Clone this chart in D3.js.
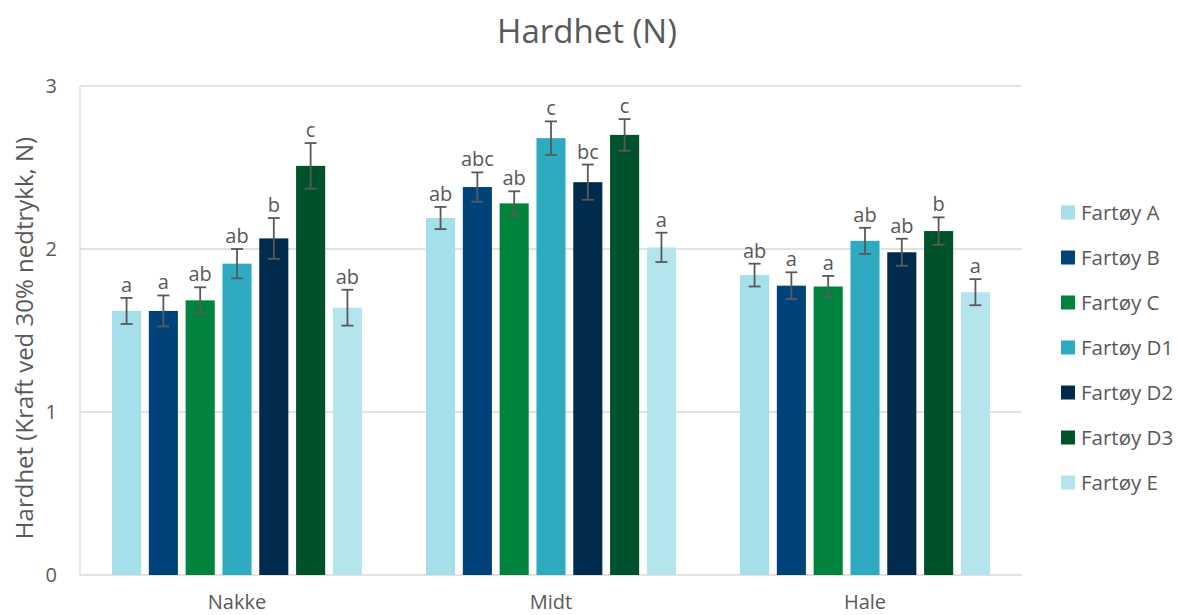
<!DOCTYPE html>
<html><head><meta charset="utf-8">
<script src="https://cdn.jsdelivr.net/npm/d3@7/dist/d3.min.js"></script>
<style>body{margin:0;background:#fff;} text{font-family:"Open Sans",sans-serif;fill:#595959;}</style>
</head><body><svg id="c" width="1177" height="615"></svg>
<script>
const categories = ["Nakke","Midt","Hale"];
const series = ["Fartøy A","Fartøy B","Fartøy C","Fartøy D1","Fartøy D2","Fartøy D3","Fartøy E"];
const colors = ["#a4dfea","#00437a","#00843d","#2eaac1","#002b4c","#00522a","#b4e5ec"];
// values[series][category]
const values = [
  [1.62, 2.19, 1.84],
  [1.62, 2.38, 1.775],
  [1.685, 2.28, 1.77],
  [1.91, 2.68, 2.05],
  [2.065, 2.41, 1.98],
  [2.51, 2.70, 2.11],
  [1.64, 2.01, 1.735]
];
const errors = [
  [0.08, 0.068, 0.07],
  [0.095, 0.09, 0.082],
  [0.08, 0.074, 0.065],
  [0.09, 0.103, 0.08],
  [0.125, 0.108, 0.083],
  [0.14, 0.097, 0.084],
  [0.11, 0.09, 0.08]
];
const letters = [
  ["a","ab","ab"],
  ["a","abc","a"],
  ["ab","ab","a"],
  ["ab","c","ab"],
  ["b","bc","ab"],
  ["c","c","b"],
  ["ab","a","a"]
];
const yTicks = [0,1,2,3];

const svg = d3.select("#c");
const L = 80, R = 1022, T = 86, B = 575;
const x0 = d3.scaleBand().domain(categories).range([L,R]).paddingInner(0.204).paddingOuter(0.102);
const x1 = d3.scaleBand().domain(series).range([0,x0.bandwidth()]).paddingInner(0.21).paddingOuter(0);
const y = d3.scaleLinear().domain([0,3]).range([B,T]);

// gridlines
svg.append("g").selectAll("line").data(yTicks).join("line")
  .attr("x1",L).attr("x2",R).attr("y1",d=>y(d)).attr("y2",d=>y(d))
  .attr("stroke","#d9d9d9").attr("stroke-width",1.3);
svg.append("line").attr("x1",L).attr("x2",L).attr("y1",T).attr("y2",B)
  .attr("stroke","#d9d9d9").attr("stroke-width",1.3);

// y tick labels
svg.append("g").selectAll("text").data(yTicks).join("text")
  .attr("x",57).attr("y",d=>y(d)).attr("dy","0.35em").attr("text-anchor","end")
  .style("font-size","20px").text(d=>d);

// bars
const data = [];
series.forEach((s,i)=>categories.forEach((c,j)=>data.push({s,c,i,v:values[i][j],e:errors[i][j],l:letters[i][j]})));
const bx = d=>x0(d.c)+x1(d.s);
svg.append("g").selectAll("rect").data(data).join("rect")
  .attr("x",bx).attr("width",x1.bandwidth())
  .attr("y",d=>y(d.v)).attr("height",d=>y(0)-y(d.v))
  .attr("fill",d=>colors[d.i]);

// error bars
const eg = svg.append("g").attr("stroke","#595959").attr("stroke-width",1.8);
data.forEach(d=>{
  const cx = bx(d)+x1.bandwidth()/2;
  eg.append("line").attr("x1",cx).attr("x2",cx).attr("y1",y(d.v+d.e)).attr("y2",y(d.v-d.e));
  eg.append("line").attr("x1",cx-6).attr("x2",cx+6).attr("y1",y(d.v+d.e)).attr("y2",y(d.v+d.e));
  eg.append("line").attr("x1",cx-6).attr("x2",cx+6).attr("y1",y(d.v-d.e)).attr("y2",y(d.v-d.e));
});
// letters
svg.append("g").selectAll("text").data(data).join("text")
  .attr("x",d=>bx(d)+x1.bandwidth()/2).attr("y",d=>y(d.v+d.e)-6)
  .attr("text-anchor","middle").style("font-size","20px").text(d=>d.l);

// category labels
svg.append("g").selectAll("text").data(categories).join("text")
  .attr("x",d=>x0(d)+x0.bandwidth()/2).attr("y",609).attr("text-anchor","middle")
  .style("font-size","20px").text(d=>d);

// title
svg.append("text").attr("x",587).attr("y",43).attr("text-anchor","middle")
  .style("font-size","33px").text("Hardhet (N)");

// y title
svg.append("text").attr("transform","translate(33,338) rotate(-90)").attr("text-anchor","middle")
  .style("font-size","24px").text("Hardhet (Kraft ved 30% nedtrykk, N)");

// legend
const lg = svg.append("g").selectAll("g").data(series).join("g")
  .attr("transform",(d,i)=>`translate(1061,${212.5+i*45})`);
lg.append("rect").attr("x",0).attr("y",-7).attr("width",14).attr("height",14).attr("fill",(d,i)=>colors[i]);
lg.append("text").attr("x",20).attr("dy","0.36em").style("font-size","20.5px").text(d=>d);
</script></body></html>
